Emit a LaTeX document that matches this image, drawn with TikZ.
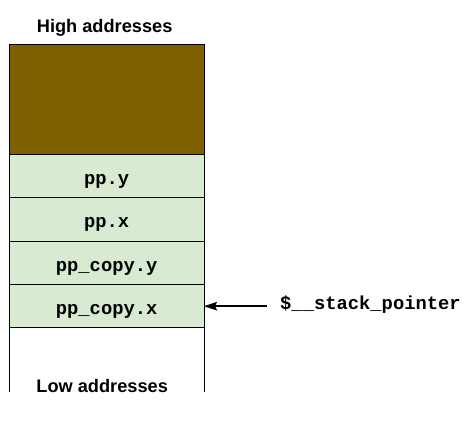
\documentclass[tikz,border=0pt]{standalone}
\usepackage{fontspec}
\usepackage{tikz}
\usetikzlibrary{positioning}
\usetikzlibrary{arrows.meta}
\newfontfamily\codefont{Liberation Mono}[BoldFont={Liberation Mono Bold}]
\newfontfamily\labelfont{Liberation Sans}[BoldFont={Liberation Sans Bold}]
\definecolor{framebrown}{HTML}{7F6000}
\definecolor{cellgreen}{HTML}{D9EAD3}

\begin{document}
\begin{tikzpicture}[x=1pt,y=1pt,
      cell/.style = {draw, line width=1pt, fill=cellgreen, outer sep=0pt,
         inner sep=0pt, minimum width=194.7pt, minimum height=43.4pt,
         text height=16.4pt, text depth=0pt,
         font=\codefont\bfseries\fontsize{18.8}{20}\selectfont},
      addr/.style = {inner sep=0pt, text depth=0pt,
         font=\labelfont\bfseries\fontsize{18.2}{20}\selectfont},
      pointer/.style = {line width=1.5pt,
         -{Stealth[length=13pt,width=8.5pt,inset=2pt]}}]

      \useasboundingbox (0,0) rectangle (471,-444);

      % stack frame of the caller
      \node[cell, fill=framebrown, minimum height=110pt, anchor=north west]
         (frame) at (9.3,-44.3) {};

      % stack cells
      \node[cell, below=0pt of frame] (ppy)  {pp.y};
      \node[cell, below=0pt of ppy]   (ppx)  {pp.x};
      \node[cell, below=0pt of ppx]   (ppcy) {pp\_copy.y};
      \node[cell, below=0pt of ppcy]  (ppcx) {pp\_copy.x};

      % address labels
      \node[addr, above=11.6pt of frame, xshift=-2pt] (high) {High addresses};
      \node[addr, text height=13pt, below=51pt of ppcx, xshift=-4.5pt] (low) {Low addresses};

      % free stack below
      \draw[line width=1pt] (ppcx.south west) -- (ppcx.south west |- low.south);
      \draw[line width=1pt] (ppcx.south east) -- (ppcx.south east |- low.south);

      % stack pointer
      \node[right=76pt of ppcx, inner sep=0pt, text height=7pt, text depth=0pt,
         font=\codefont\bfseries\fontsize{18.8}{20}\selectfont]
         (sp) {\$\_\_stack\_pointer};
      \draw[pointer, shorten <=13pt] (sp.west) -- (ppcx.east);

   \end{tikzpicture}
\end{document}
